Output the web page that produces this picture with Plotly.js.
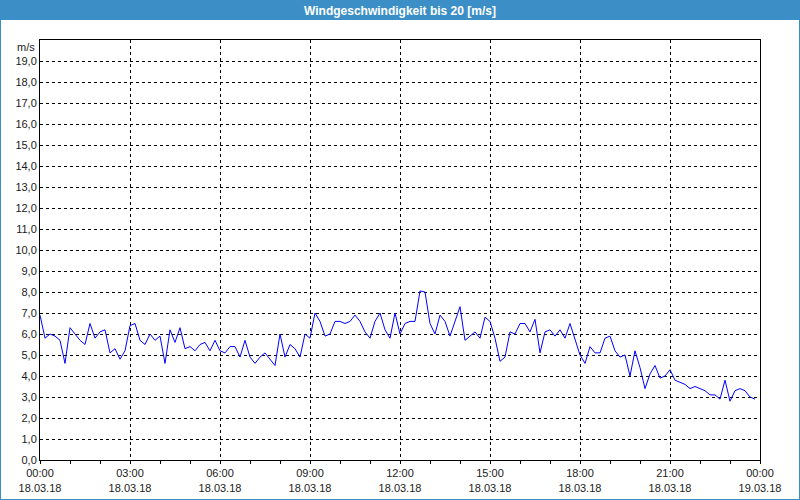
<!DOCTYPE html>
<html>
<head>
<meta charset="utf-8">
<script src="https://cdn.plot.ly/plotly-3.0.1.min.js"></script>
<style>
  body { margin: 0; background: #ffffff; }
  #chart { width: 798px; height: 498px; border: 1px solid #3c8fc6; }
</style>
</head>
<body>
<div id="chart"></div>
<script>
  // wind speed, 10 minute values from 18.03.18 00:00
  const startTime = "2018-03-18T00:00:00Z";
  const stepMinutes = 10;
  const windSpeed = [
    6.9, 5.8, 6.0, 5.9, 5.7, 4.6, 6.3, 6.0, 5.7, 5.5,
    6.5, 5.8, 6.1, 6.2, 5.1, 5.3, 4.8, 5.2, 6.4, 6.5,
    5.7, 5.5, 6.0, 5.7, 5.9, 4.6, 6.2, 5.6, 6.3, 5.3,
    5.4, 5.2, 5.5, 5.6, 5.2, 5.7, 5.2, 5.1, 5.4, 5.4,
    4.9, 5.7, 4.9, 4.6, 4.9, 5.1, 4.8, 4.5, 6.0, 4.9,
    5.5, 5.3, 4.9, 6.0, 5.8, 7.0, 6.6, 5.9, 6.0, 6.6,
    6.6, 6.5, 6.6, 6.9, 6.6, 6.1, 5.8, 6.6, 7.0, 6.2,
    5.8, 7.0, 6.0, 6.5, 6.6, 6.6, 8.05, 8.0, 6.5, 6.0,
    6.9, 6.6, 5.9, 6.6, 7.3, 5.7, 5.9, 6.1, 5.8, 6.8,
    6.6, 5.8, 4.7, 4.9, 6.1, 6.0, 6.5, 6.5, 6.1, 6.7,
    5.1, 6.1, 6.2, 5.9, 6.2, 5.8, 6.5, 5.8, 5.0, 4.6,
    5.4, 5.1, 5.1, 5.8, 5.9, 5.2, 4.9, 5.0, 4.0, 5.2,
    4.4, 3.4, 4.1, 4.5, 3.9, 4.0, 4.3, 3.8, 3.7, 3.6,
    3.4, 3.5, 3.4, 3.3, 3.1, 3.1, 2.9, 3.8, 2.8, 3.3,
    3.4, 3.3, 3.0, 2.9
  ];

  const tickStamps = [
    "2018-03-18 00:00", "2018-03-18 03:00", "2018-03-18 06:00", "2018-03-18 09:00",
    "2018-03-18 12:00", "2018-03-18 15:00", "2018-03-18 18:00", "2018-03-18 21:00",
    "2018-03-19 00:00"
  ];
  const tickTimes = ["00:00", "03:00", "06:00", "09:00", "12:00", "15:00", "18:00", "21:00", "00:00"];
  const tickDates = ["18.03.18", "18.03.18", "18.03.18", "18.03.18", "18.03.18",
                     "18.03.18", "18.03.18", "18.03.18", "19.03.18"];

  const yTickVals = [0, 1, 2, 3, 4, 5, 6, 7, 8, 9, 10, 11, 12, 13, 14, 15, 16, 17, 18, 19];
  const yTickText = ["0,0", "1,0", "2,0", "3,0", "4,0", "5,0", "6,0", "7,0", "8,0", "9,0",
                     "10,0", "11,0", "12,0", "13,0", "14,0", "15,0", "16,0", "17,0", "18,0", "19,0"];

  const titleText = "<b>Windgeschwindigkeit bis 20 [m/s]</b>";
  const unitText = "m/s";

  function stamp(ms) {
    const d = new Date(ms);
    const p = (n) => String(n).padStart(2, "0");
    return d.getUTCFullYear() + "-" + p(d.getUTCMonth() + 1) + "-" + p(d.getUTCDate()) +
      " " + p(d.getUTCHours()) + ":" + p(d.getUTCMinutes());
  }

  const t0 = Date.parse(startTime);
  const times = windSpeed.map((_, i) => stamp(t0 + i * stepMinutes * 60000));

  const font = { family: "Liberation Sans, Arial, sans-serif", size: 11, color: "#1a1a1a" };

  // plot area inside the 798x498 div: x 39..759, y 39..459
  const W = 798, H = 498, L = 39, T = 39, PW = 720, PH = 420;

  const trace = {
    type: "scatter",
    mode: "lines",
    x: times,
    y: windSpeed,
    line: { color: "#0000ff", width: 1 },
    hoverinfo: "x+y"
  };

  const layout = {
    width: W,
    height: H,
    margin: { l: L, r: W - L - PW, t: T, b: H - T - PH },
    paper_bgcolor: "#ffffff",
    plot_bgcolor: "#ffffff",
    showlegend: false,
    font: font,
    title: {
      text: titleText,
      font: { family: "Liberation Sans, Arial, sans-serif", size: 12, color: "#ffffff" },
      x: 0.5,
      xanchor: "center",
      yref: "container",
      y: 1 - 10 / H,
      yanchor: "middle"
    },
    shapes: [{
      type: "rect",
      xref: "paper",
      yref: "paper",
      x0: -L / PW,
      x1: (W - L) / PW,
      y0: (T + PH - 19) / PH,
      y1: (T + PH + 1) / PH,
      fillcolor: "#3c8fc6",
      line: { width: 0 },
      layer: "below"
    }],
    annotations: [{
      text: unitText,
      xref: "paper",
      yref: "y",
      x: 0,
      y: 20,
      xanchor: "right",
      yanchor: "top",
      xshift: -3,
      yshift: 1,
      showarrow: false,
      font: font
    }],
    xaxis: {
      type: "date",
      range: [tickStamps[0], tickStamps[tickStamps.length - 1]],
      tickmode: "array",
      tickvals: tickStamps,
      ticktext: tickTimes.map((t, i) => t + "<br>" + tickDates[i]),
      ticks: "outside",
      ticklen: 3,
      tickcolor: "#000000",
      tickfont: font,
      showgrid: true,
      gridcolor: "#000000",
      gridwidth: 1,
      griddash: "3px,3px",
      showline: true,
      mirror: true,
      linecolor: "#000000",
      linewidth: 1,
      zeroline: false,
      minor: {
        dtick: 3600000,
        ticks: "outside",
        ticklen: 3,
        tickcolor: "#000000",
        showgrid: false
      }
    },
    yaxis: {
      range: [0, 20],
      tickmode: "array",
      tickvals: yTickVals,
      ticktext: yTickText,
      ticks: "",
      tickfont: font,
      showgrid: true,
      gridcolor: "#000000",
      gridwidth: 1,
      griddash: "3px,3px",
      showline: true,
      mirror: true,
      linecolor: "#000000",
      linewidth: 1,
      zeroline: false,
      fixedrange: true
    }
  };

  Plotly.newPlot("chart", [trace], layout, { displayModeBar: false, staticPlot: true });
</script>
</body>
</html>
